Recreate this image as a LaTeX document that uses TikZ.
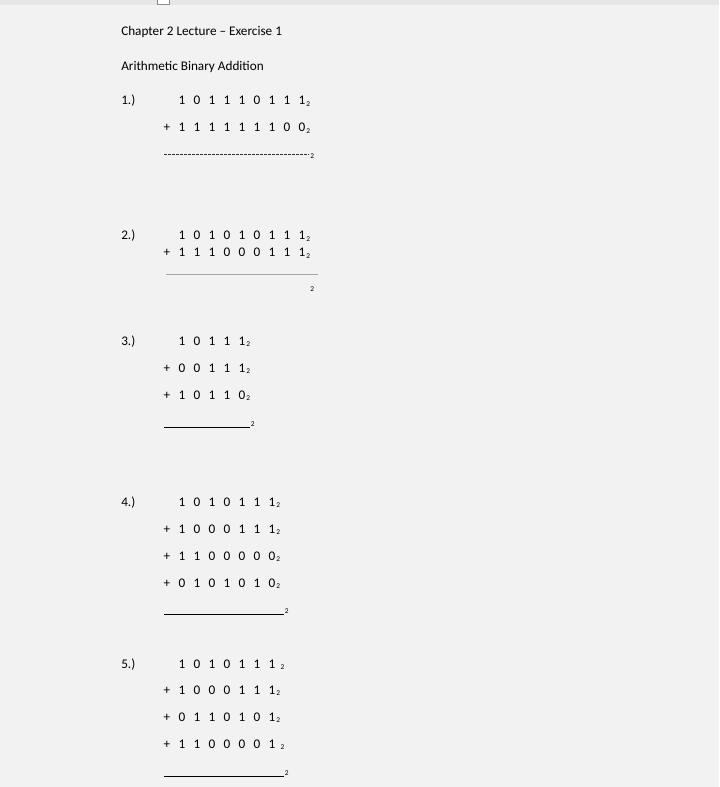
\documentclass[tikz,border=0pt]{standalone}
\usepackage{fontspec}
\setmainfont{Carlito}
\usepackage{tikz}
\usetikzlibrary{calc}
\definecolor{pagebg}{HTML}{F2F2F2}
\definecolor{topbar}{HTML}{E6E6E6}
\tikzset{
  txt/.style={font=\fontsize{9.9}{12}\selectfont, inner sep=0pt, anchor=base},
  subtxt/.style={font=\fontsize{5.5}{6}\selectfont, inner sep=0pt, anchor=base west},
  sumline/.style={line width=0.75pt}
}
\begin{document}
\begin{tikzpicture}[x=0.75pt,y=-0.75pt]
    \useasboundingbox (0,0) rectangle (719,787);
    \fill[pagebg] (0,0) rectangle (719,787);
    \fill[topbar] (0,0) rectangle (719,5);
    \draw[fill=white, draw=black!45, line width=0.75pt] (157.5,-1) rectangle (169.5,4.5);
    % headings
    \node[txt, anchor=base west] (title) at (121,36) {Chapter 2 Lecture -- Exercise 1};
    \node[txt, anchor=base west] (topic) at (121,71) {Arithmetic Binary Addition};
    % exercise numbers
    \foreach \n/\yy in {1/100,2/235,3/340,4/501,5/663}
        \node[txt, anchor=base west] (num\n) at (121,\yy+5) {\n.)};
    % plus signs
    \foreach \yy in {127,252,367,394,528,555,582,689,716,743}
        \node[txt] (plus\yy) at (167,\yy+5) {+};
    % digit rows: name / y / digits / last column / gap before base
    \foreach \row/\yy/\bits/\n/\gap in {
        ea/100/{1,0,1,1,1,0,1,1,1}/9/0.4,
        eb/127/{1,1,1,1,1,1,1,0,0}/9/0.4,
        fa/235/{1,0,1,0,1,0,1,1,1}/9/0.4,
        fb/252/{1,1,1,0,0,0,1,1,1}/9/0.4,
        ga/340/{1,0,1,1,1}/5/0.4,
        gb/367/{0,0,1,1,1}/5/0.4,
        gc/394/{1,0,1,1,0}/5/0.4,
        ha/501/{1,0,1,0,1,1,1}/7/0.4,
        hb/528/{1,0,0,0,1,1,1}/7/0.4,
        hc/555/{1,1,0,0,0,0,0}/7/0.4,
        hd/582/{0,1,0,1,0,1,0}/7/0.4,
        ka/663/{1,0,1,0,1,1,1}/7/3.6,
        kb/689/{1,0,0,0,1,1,1}/7/0.4,
        kc/716/{0,1,1,0,1,0,1}/7/0.4,
        kd/743/{1,1,0,0,0,0,1}/7/3.6}{
        \foreach \b [count=\k] in \bits
            \node[txt] (\row-\k) at ({167+15*\k},\yy+5) {\b};
        \node[subtxt] (\row-base) at ([xshift=\gap pt, yshift=-1.4pt]\row-\n.base east) {2};
    }
    % answer lines
    \coordinate (la) at (164,155);
    \coordinate (lb) at (166,275);
    \coordinate (lc) at (164,427);
    \coordinate (ld) at (164,614);
    \coordinate (le) at (164,776);
    \draw[sumline, black!80, dash pattern=on 2.25pt off 0.75pt] (la) -- ++(145,0) coordinate (la-end);
    \draw[sumline, black!35] (lb) -- ++(152,0) coordinate (lb-end);
    \draw[sumline] (lc) -- ++(86,0) coordinate (lc-end);
    \draw[sumline] (ld) -- ++(120,0) coordinate (ld-end);
    \draw[sumline] (le) -- ++(120,0) coordinate (le-end);
    \node[subtxt] (la-base) at ($(la-end)+(1,4)$) {2};
    \node[subtxt] (lb-base) at (310,292) {2};
    \node[subtxt] (lc-base) at ($(lc-end)+(0.5,-1)$) {2};
    \node[subtxt] (ld-base) at ($(ld-end)+(0.5,-1)$) {2};
    \node[subtxt] (le-base) at ($(le-end)+(0.5,-1)$) {2};
\end{tikzpicture}
\end{document}
